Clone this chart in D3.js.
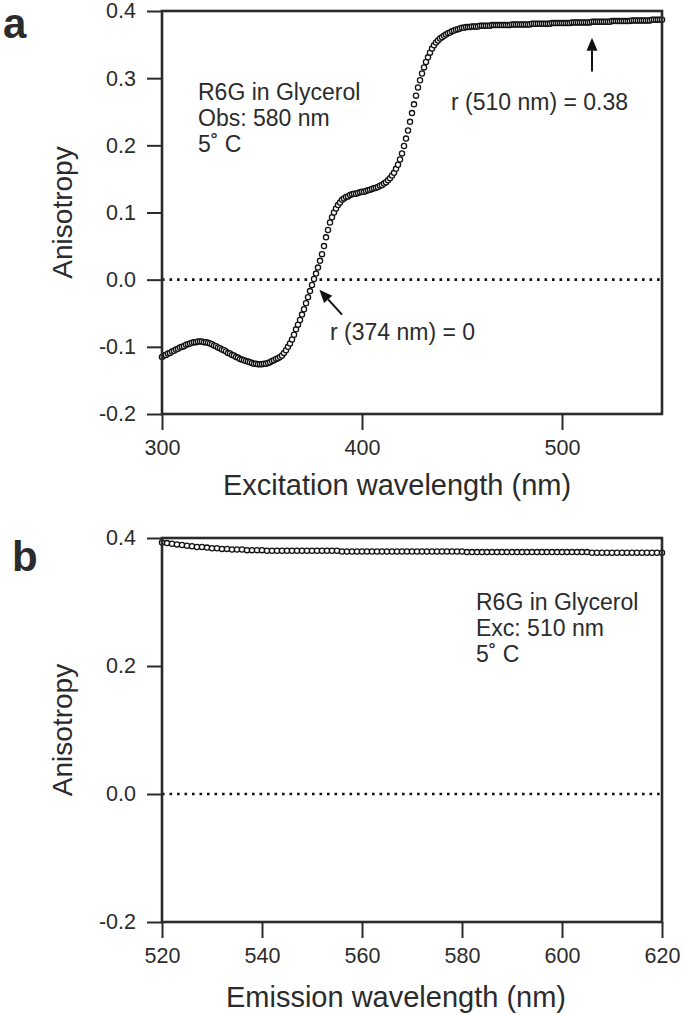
<!DOCTYPE html>
<html>
<head>
<meta charset="utf-8">
<script src="https://cdn.jsdelivr.net/npm/d3@7"></script>
<style>
  html, body { margin: 0; padding: 0; background: #fff; }
  svg text { font-family: "Liberation Sans", Arial, Helvetica, sans-serif; fill: #2b2b2b; }
</style>
</head>
<body>
<svg id="chart" width="684" height="1015"></svg>
<script>
// ---------------- DATA ----------------
// Panel a: excitation anisotropy spectrum, 300–550 nm in 1 nm steps
const excStart = 300;
const excAnisotropy = [
  -0.115,-0.113,-0.112,-0.110,-0.109,-0.107,-0.106,-0.104,-0.103,-0.101,
  -0.100,-0.099,-0.097,-0.096,-0.095,-0.094,-0.093,-0.093,-0.092,-0.092,
  -0.092,-0.093,-0.093,-0.094,-0.095,-0.096,-0.098,-0.099,-0.101,-0.102,
  -0.104,-0.105,-0.107,-0.109,-0.110,-0.112,-0.113,-0.115,-0.116,-0.118,
  -0.119,-0.120,-0.121,-0.122,-0.123,-0.124,-0.125,-0.125,-0.126,-0.126,
  -0.126,-0.125,-0.125,-0.124,-0.123,-0.121,-0.120,-0.118,-0.117,-0.115,
  -0.113,-0.109,-0.105,-0.100,-0.095,-0.089,-0.082,-0.074,-0.067,-0.060,
  -0.052,-0.044,-0.035,-0.026,-0.017,-0.008,0.001,0.009,0.018,0.028,
  0.038,0.050,0.063,0.074,0.085,0.093,0.100,0.106,0.111,0.115,
  0.119,0.121,0.123,0.124,0.126,0.127,0.128,0.128,0.129,0.130,
  0.131,0.131,0.132,0.133,0.134,0.135,0.136,0.137,0.138,0.140,
  0.141,0.143,0.145,0.148,0.151,0.155,0.159,0.165,0.171,0.179,
  0.188,0.199,0.210,0.222,0.235,0.248,0.261,0.274,0.286,0.297,
  0.307,0.316,0.324,0.331,0.338,0.344,0.349,0.353,0.356,0.359,
  0.361,0.363,0.365,0.367,0.368,0.370,0.371,0.372,0.373,0.374,
  0.375,0.375,0.376,0.376,0.376,0.377,0.377,0.377,0.377,0.378,
  0.378,0.378,0.378,0.378,0.378,0.379,0.379,0.379,0.379,0.379,
  0.379,0.379,0.379,0.379,0.379,0.380,0.380,0.380,0.380,0.380,
  0.380,0.380,0.380,0.380,0.380,0.381,0.381,0.381,0.381,0.381,
  0.381,0.381,0.381,0.381,0.381,0.382,0.382,0.382,0.382,0.382,
  0.382,0.382,0.382,0.382,0.382,0.383,0.383,0.383,0.383,0.383,
  0.383,0.383,0.383,0.383,0.383,0.384,0.384,0.384,0.384,0.384,
  0.384,0.384,0.384,0.384,0.384,0.385,0.385,0.385,0.385,0.385,
  0.385,0.385,0.385,0.385,0.385,0.386,0.386,0.386,0.386,0.386,
  0.386,0.386,0.386,0.386,0.386,0.387,0.387,0.387,0.387,0.387,
  0.387
];
// Panel b: emission anisotropy spectrum, 520–620 nm in 1 nm steps
const emStart = 520;
const emAnisotropy = [
  0.393,0.392,0.391,0.390,0.389,0.388,0.387,0.386,0.386,0.385,
  0.384,0.384,0.383,0.383,0.382,0.382,0.382,0.381,0.381,0.381,
  0.381,0.380,0.380,0.380,0.380,0.380,0.380,0.380,0.380,0.380,
  0.380,0.380,0.380,0.380,0.380,0.380,0.379,0.379,0.379,0.379,
  0.379,0.379,0.379,0.379,0.379,0.379,0.379,0.379,0.379,0.379,
  0.379,0.379,0.379,0.379,0.379,0.379,0.379,0.379,0.379,0.379,
  0.379,0.378,0.378,0.378,0.378,0.378,0.378,0.378,0.378,0.378,
  0.378,0.378,0.378,0.378,0.378,0.378,0.378,0.378,0.378,0.378,
  0.378,0.378,0.378,0.378,0.378,0.378,0.377,0.377,0.377,0.377,
  0.377,0.377,0.377,0.377,0.377,0.377,0.377,0.377,0.377,0.377,
  0.377
];

const yTickValues = [-0.2, -0.1, 0.0, 0.1, 0.2, 0.3, 0.4];
const yTickLabelsA = ["-0.2", "-0.1", "0.0", "0.1", "0.2", "0.3", "0.4"];
const yTickValuesB = [-0.2, 0.0, 0.2, 0.4];
const yTickLabelsB = ["-0.2", "0.0", "0.2", "0.4"];
const xTicksA = [300, 400, 500];
const xTicksB = [520, 540, 560, 580, 600, 620];

const excPoints = excAnisotropy.map((v, i) => ({ x: excStart + i, y: v }));
const emPoints = emAnisotropy.map((v, i) => ({ x: emStart + i, y: v }));

// ---------------- DRAWING ----------------
const svg = d3.select("#chart");
const ink = "#2b2b2b";

function drawPanel(cfg) {
  const x = d3.scaleLinear().domain(cfg.xDomain).range([cfg.left, cfg.right]);
  const y = d3.scaleLinear().domain([-0.2, 0.4]).range([cfg.bottom, cfg.top]);
  const g = svg.append("g");

  const ya = g.append("g").attr("transform", `translate(${cfg.left},0)`)
    .call(d3.axisLeft(y).tickValues(cfg.yTicks).tickSize(15).tickPadding(11)
      .tickFormat((d, i) => cfg.yLabels[i]));
  const xa = g.append("g").attr("transform", `translate(0,${cfg.bottom})`)
    .call(d3.axisBottom(x).tickValues(cfg.xTicks).tickSize(16).tickPadding(10)
      .tickFormat(d3.format("d")));
  [ya, xa].forEach(a => {
    a.select(".domain").remove();
    a.selectAll(".tick line").attr("stroke", ink).attr("stroke-width", 2);
    a.selectAll(".tick text").attr("font-size", 21.5).attr("fill", ink)
      .style("font-family", '"Liberation Sans", Arial, sans-serif');
  });

  g.append("line")
    .attr("x1", cfg.left).attr("x2", cfg.right)
    .attr("y1", y(0)).attr("y2", y(0))
    .attr("stroke", "#111").attr("stroke-width", 2.6)
    .attr("stroke-dasharray", "2.6,4.9");

  g.append("g").selectAll("circle").data(cfg.points).join("circle")
    .attr("cx", d => x(d.x)).attr("cy", d => y(d.y))
    .attr("r", 2.6).attr("fill", "#fff").attr("stroke", "#111").attr("stroke-width", 1.3);

  g.append("rect")
    .attr("x", cfg.left).attr("y", cfg.top)
    .attr("width", cfg.right - cfg.left).attr("height", cfg.bottom - cfg.top)
    .attr("fill", "none").attr("stroke", ink).attr("stroke-width", 2.6);

  g.append("text")
    .attr("x", cfg.xTitleX).attr("y", cfg.xTitleY)
    .attr("text-anchor", "middle").attr("font-size", 29).text(cfg.xTitle);
  g.append("text")
    .attr("transform", `translate(${cfg.yTitleX},${(cfg.top + cfg.bottom) / 2}) rotate(-90)`)
    .attr("text-anchor", "middle").attr("font-size", 28).text("Anisotropy");

  g.append("text").attr("x", cfg.letterX).attr("y", cfg.letterY)
    .attr("font-size", 42).attr("font-weight", "bold").text(cfg.letter);

  cfg.note.forEach((line, i) => {
    g.append("text").attr("x", cfg.noteX).attr("y", cfg.noteY + i * cfg.noteDy)
      .attr("font-size", 23).text(line);
  });
  return { g, x, y };
}

function arrow(g, x1, y1, x2, y2) {
  const ang = Math.atan2(y2 - y1, x2 - x1);
  const L = 13, W = 5.5;
  const bx = x2 - L * Math.cos(ang), by = y2 - L * Math.sin(ang);
  g.append("line").attr("x1", x1).attr("y1", y1).attr("x2", bx).attr("y2", by)
    .attr("stroke", "#111").attr("stroke-width", 2);
  const px = -Math.sin(ang) * W, py = Math.cos(ang) * W;
  g.append("path")
    .attr("d", `M${x2},${y2}L${bx + px},${by + py}L${bx - px},${by - py}Z`)
    .attr("fill", "#111");
}

const A = drawPanel({
  left: 162, right: 662, top: 11, bottom: 414,
  xDomain: [300, 550], xTicks: xTicksA,
  yTicks: yTickValues, yLabels: yTickLabelsA,
  points: excPoints,
  xTitle: "Excitation wavelength (nm)", xTitleX: 397, xTitleY: 495, yTitleX: 72,
  letter: "a", letterX: 3, letterY: 38,
  note: ["R6G in Glycerol", "Obs: 580 nm", "5˚ C"], noteX: 198, noteY: 100, noteDy: 26
});
A.g.append("text").attr("x", 451).attr("y", 110).attr("font-size", 23).text("r (510 nm) = 0.38");
A.g.append("text").attr("x", 330).attr("y", 340).attr("font-size", 23).text("r (374 nm) = 0");
arrow(A.g, A.x(390), A.y(-0.052), A.x(378.7), A.y(-0.015));
arrow(A.g, A.x(515), A.y(0.310), A.x(515), A.y(0.360));

drawPanel({
  left: 162, right: 662, top: 538, bottom: 922,
  xDomain: [520, 620], xTicks: xTicksB,
  yTicks: yTickValuesB, yLabels: yTickLabelsB,
  points: emPoints,
  xTitle: "Emission wavelength (nm)", xTitleX: 396, xTitleY: 1007, yTitleX: 72,
  letter: "b", letterX: 12, letterY: 571,
  note: ["R6G in Glycerol", "Exc: 510 nm", "5˚ C"], noteX: 476, noteY: 610, noteDy: 26
});
</script>
</body>
</html>
